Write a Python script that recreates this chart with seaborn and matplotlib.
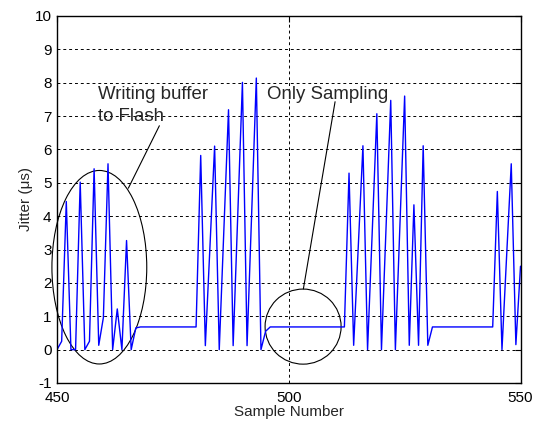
import numpy as np
import matplotlib

matplotlib.use("Agg")
import matplotlib.pyplot as plt
from matplotlib.patches import Ellipse
import seaborn as sns

# sample numbers shown on the x axis
sample_start = 450
sample_end = 550

# jitter per sample (us), samples 450..550
jitter = [
    0.0, 0.25, 4.44, 0.0, 0.0, 5.02, 0.0, 0.25, 5.42, 0.13,
    0.96, 5.57, 0.0, 1.22, 0.0, 3.27, 0.0, 0.65, 0.68, 0.68,
    0.68, 0.68, 0.68, 0.68, 0.68, 0.68, 0.68, 0.68, 0.68, 0.68,
    0.68, 5.82, 0.12, 3.1, 6.1, 0.0, 3.6, 7.19, 0.12, 4.06,
    8.01, 0.12, 4.1, 8.14, 0.0, 0.55, 0.68, 0.68, 0.68, 0.68,
    0.68, 0.68, 0.68, 0.68, 0.68, 0.68, 0.68, 0.68, 0.68, 0.68,
    0.68, 0.68, 0.68, 5.29, 0.13, 3.1, 6.11, 0.0, 3.5, 7.07,
    0.0, 3.7, 7.47, 0.0, 3.8, 7.6, 0.13, 4.34, 0.13, 6.11,
    0.13, 0.68, 0.68, 0.68, 0.68, 0.68, 0.68, 0.68, 0.68, 0.68,
    0.68, 0.68, 0.68, 0.68, 0.68, 4.74, 0.0, 2.8, 5.57, 0.15,
    2.5,
]

y_ticks = list(range(-1, 11))
x_ticks = [450, 500, 550]


def main() -> None:
    sns.set_style("white")
    plt.rcParams["font.family"] = ["Liberation Sans", "DejaVu Sans"]
    plt.rcParams["axes.unicode_minus"] = False

    samples = np.arange(sample_start, sample_end + 1)

    fig = plt.figure(figsize=(5.39, 4.24), dpi=100)
    ax = fig.add_axes([0.1058, 0.0967, 0.8599, 0.8656])

    sns.lineplot(x=samples, y=jitter, ax=ax, color="#0000ff", linewidth=1.0)

    ax.set_xlim(450, 550)
    ax.set_ylim(-1, 10)
    ax.set_xticks(x_ticks)
    ax.set_yticks(y_ticks)
    ax.tick_params(labelsize=11, direction="in", length=4, width=0.8,
                   top=True, right=True, colors="black", pad=4)
    ax.tick_params(axis="x", pad=6)
    ax.grid(True, color="black", linestyle=(0, (3, 3)), linewidth=0.7)
    for spine in ax.spines.values():
        spine.set_color("black")
        spine.set_linewidth(1.0)

    ax.set_xlabel("Sample Number", fontsize=11, labelpad=0)
    ax.set_ylabel("Jitter (\u03bcs)", fontsize=11, labelpad=1)

    # annotations
    ax.add_patch(Ellipse((459.13, 2.47), 20.46, 5.8, fill=False,
                         edgecolor="black", linewidth=0.8, clip_on=False))
    ax.add_patch(Ellipse((503.09, 0.69), 16.4, 2.25, fill=False,
                         edgecolor="black", linewidth=0.8))
    ax.plot([465.39, 472.08], [4.84, 6.71], color="black", linewidth=0.8)
    ax.plot([503.15, 509.99], [1.82, 7.43], color="black", linewidth=0.8)
    ax.text(458.9, 7.5, "Writing buffer", fontsize=13.4, va="baseline")
    ax.text(458.9, 6.86, "to Flash", fontsize=13.4, va="baseline")
    ax.text(495.38, 7.5, "Only Sampling", fontsize=13.4, va="baseline")

    fig.savefig("out.png", dpi=100)
    plt.close(fig)


if __name__ == "__main__":
    main()
